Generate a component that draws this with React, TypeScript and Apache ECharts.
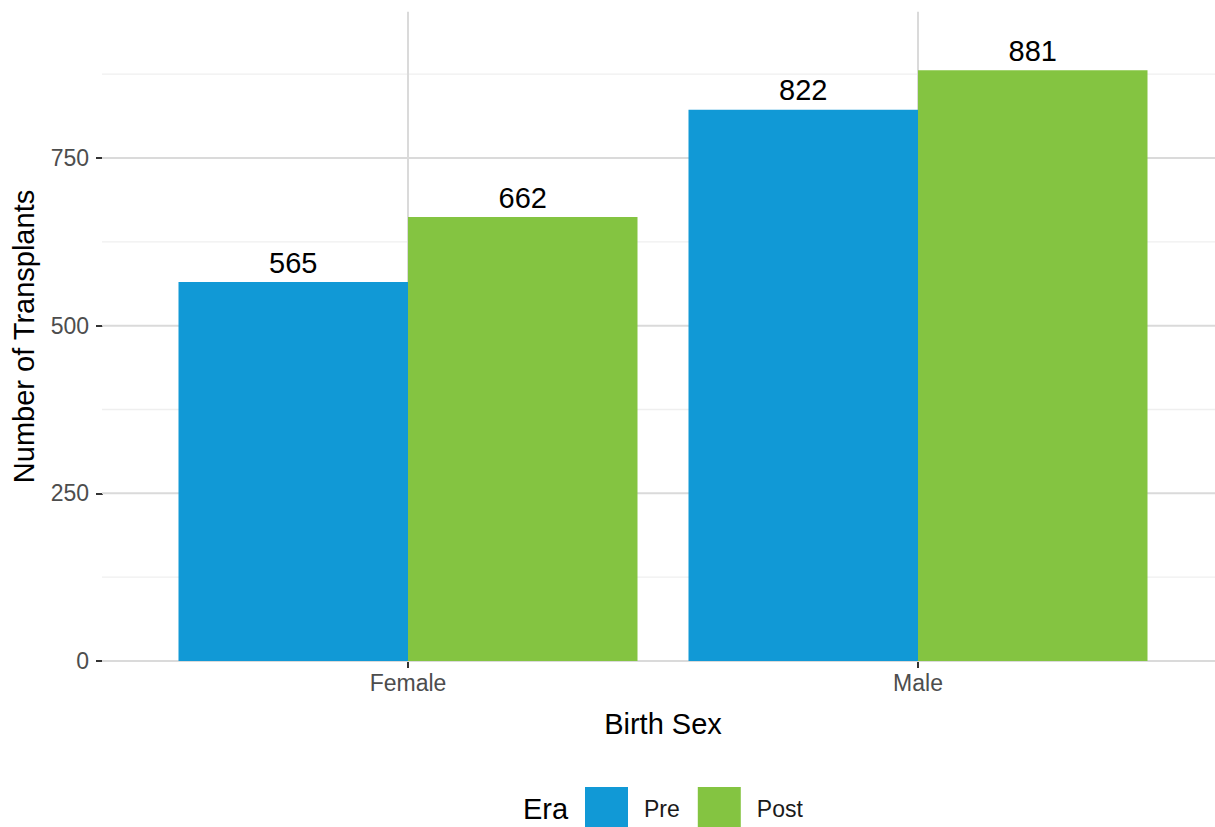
import React, { useEffect, useRef } from "react";
import * as echarts from "echarts";

const categories = ["Female", "Male"];
const preValues = [565, 822];
const postValues = [662, 881];
const seriesNames = ["Pre", "Post"];
const majorTicks = [0, 250, 500, 750];
const minorTicks = [125, 375, 625, 875];

const COLORS = { Pre: "#1199D6", Post: "#84C441" };
const PANEL_TOP = 968;
const PANEL_LEFT = 0.4;
const PANEL_RIGHT = 3;
const FONT = "Liberation Sans, Arial, Helvetica, sans-serif";

export default function App() {
  const ref = useRef<HTMLDivElement>(null);
  useEffect(() => {
    if (!ref.current) return;
    const chart = echarts.init(ref.current, undefined, { renderer: "svg" });
    const gridSeries = (data: number[][], color: string, width: number) => ({
      type: "line",
      data,
      symbol: "none",
      silent: true,
      z: 1,
      lineStyle: { color, width, type: "solid" },
      tooltip: { show: false },
    });
    const horiz = (vals: number[], color: string, width: number) =>
      vals.map((v) =>
        gridSeries(
          [
            [PANEL_LEFT, v],
            [PANEL_RIGHT, v],
          ],
          color,
          width
        )
      );
    const vert = categories.map((_, i) =>
      gridSeries(
        [
          [i + 1, 0],
          [i + 1, PANEL_TOP],
        ],
        "#DADADA",
        2
      )
    );
    const mkSeries = (name: string, values: number[]) => ({
      type: "bar",
      name,
      data: values.map((v, i) => [i + 1, v]),
      barWidth: 229.5,
      barGap: "0%",
      itemStyle: { color: (COLORS as any)[name] },
      z: 2,
      label: {
        show: true,
        position: "top",
        distance: 5,
        fontSize: 29,
        fontFamily: FONT,
        color: "#000000",
        formatter: (p: any) => String(p.value[1]),
      },
    });
    chart.setOption({
      animation: false,
      backgroundColor: "#FFFFFF",
      grid: {
        left: -102,
        right: -213,
        top: -9.67,
        bottom: 166,
        containLabel: false,
        outerBoundsMode: "none",
      },
      xAxis: {
        type: "value",
        min: 0,
        max: 3,
        interval: 1,
        name: "Birth Sex",
        nameLocation: "middle",
        nameGap: 48,
        nameTextStyle: { fontSize: 29, fontFamily: FONT, color: "#000000" },
        axisLine: { show: false },
        axisTick: { show: true, length: 7, lineStyle: { color: "#333333", width: 2 } },
        axisLabel: {
          fontSize: 23,
          fontFamily: FONT,
          color: "#4D4D4D",
          margin: 10,
          formatter: (v: number) => categories[v - 1] ?? "",
        },
        splitLine: { show: false },
      },
      yAxis: {
        type: "value",
        min: 0,
        max: 1000,
        interval: 250,
        offset: -205,
        axisLine: { show: false },
        axisTick: { show: true, length: 7, lineStyle: { color: "#333333", width: 2 } },
        axisLabel: {
          fontSize: 23,
          fontFamily: FONT,
          color: "#4D4D4D",
          margin: 14,
          formatter: (v: number) => (v >= 1000 ? "" : String(v)),
        },
        splitLine: { show: false },
      },
      legend: {
        left: 585,
        top: 787,
        padding: 0,
        icon: "rect",
        itemWidth: 43,
        itemHeight: 43,
        itemGap: 18,
        data: seriesNames,
        textStyle: { fontSize: 23, fontFamily: FONT, color: "#1A1A1A", padding: [0, 0, 0, 11] },
      },
      graphic: [
        {
          type: "text",
          left: 523,
          top: 794,
          style: { text: "Era", fontSize: 29, fontFamily: FONT, fill: "#000000" },
        },
        {
          type: "text",
          x: 24,
          y: 336.5,
          rotation: Math.PI / 2,
          style: {
            text: "Number of Transplants",
            fontSize: 29,
            fontFamily: FONT,
            fill: "#000000",
            align: "center",
            verticalAlign: "middle",
          },
        },
      ],
      series: [
        ...horiz(minorTicks, "#EFEFEF", 1.3),
        ...horiz(majorTicks, "#DADADA", 2),
        ...vert,
        mkSeries("Pre", preValues),
        mkSeries("Post", postValues),
      ],
    });
    return () => chart.dispose();
  }, []);
  return (
    <div
      ref={ref}
      style={{ position: "fixed", left: 0, top: 0, width: 1215, height: 827, background: "#fff" }}
    />
  );
}
